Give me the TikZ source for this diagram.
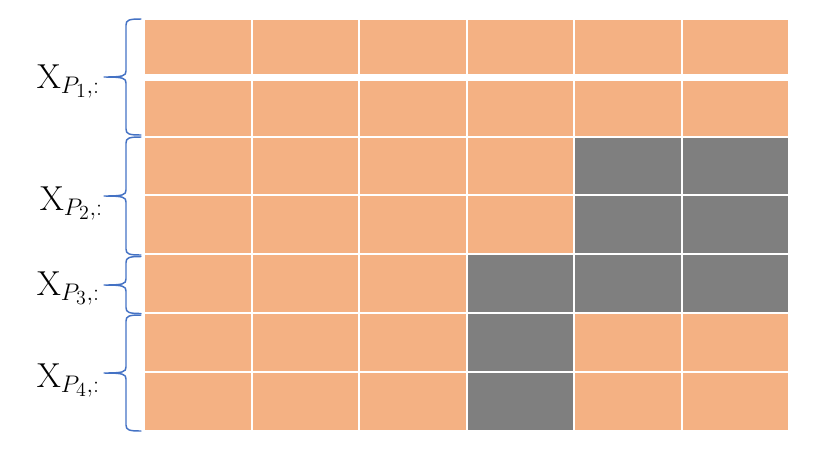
\RequirePackage{fix-cm}
\documentclass[tikz,border=0pt]{standalone}
\DeclareMathSizes{26}{26}{18}{15}
\definecolor{cellorange}{RGB}{244,177,131}
\definecolor{cellgray}{RGB}{127,127,127}
\definecolor{braceblue}{RGB}{68,114,196}
\begin{document}
\begin{tikzpicture}[x=0.75pt,y=0.75pt,yscale=-1,xscale=1,
    ocell/.style={fill=cellorange,draw=white,line width=1.5pt},
    gcell/.style={fill=cellgray,draw=white,line width=1.5pt},
    bracket/.style={draw=braceblue,line width=1.1pt,line join=round,line cap=round},
    plabel/.style={anchor=base east,inner sep=0.75pt,font=\fontsize{26}{30}\selectfont}]
\useasboundingbox (0,0) rectangle (824,462);

% Cells, one row at a time
\foreach \ya/\yb/\cols in {
    19/75.3/{ocell,ocell,ocell,ocell,ocell,ocell},
    79.7/136.5/{ocell,ocell,ocell,ocell,ocell,ocell},
    136.5/195/{ocell,ocell,ocell,ocell,gcell,gcell},
    195/254.3/{ocell,ocell,ocell,ocell,gcell,gcell},
    254.3/313.3/{ocell,ocell,ocell,gcell,gcell,gcell},
    313.3/372.3/{ocell,ocell,ocell,gcell,ocell,ocell},
    372.3/431/{ocell,ocell,ocell,gcell,ocell,ocell}}{
  \foreach \k [count=\c] in \cols
    \draw[\k] ({144+107.5*(\c-1)},\ya) rectangle ({144+107.5*\c},\yb);
}

% Braces and their labels
\foreach \ya/\yb/\n/\lx/\dy in {19/135/1/101/11, 137/255/2/104/14, 256.5/313.5/3/101/10, 315/431/4/101/14}{
  \pgfmathsetmacro\ym{(\ya+\yb)/2}
  \coordinate (tip\n) at (104,\ym);
  \draw[bracket] (141,\ya) .. controls (129,\ya) and (126,{\ya+1}) .. (126,{\ya+6})
    -- (126,{\ym-6}) .. controls (126,{\ym-1}) and (123,\ym) .. (tip\n)
    .. controls (123,\ym) and (126,{\ym+1}) .. (126,{\ym+6})
    -- (126,{\yb-6}) .. controls (126,{\yb-1}) and (129,\yb) .. (141,\yb);
  % Text Node
  \node[plabel] (lbl\n) at (\lx,{\ym+\dy}) {$\mathrm{X}_{P_{\n},:}$};
}
\end{tikzpicture}
\end{document}
